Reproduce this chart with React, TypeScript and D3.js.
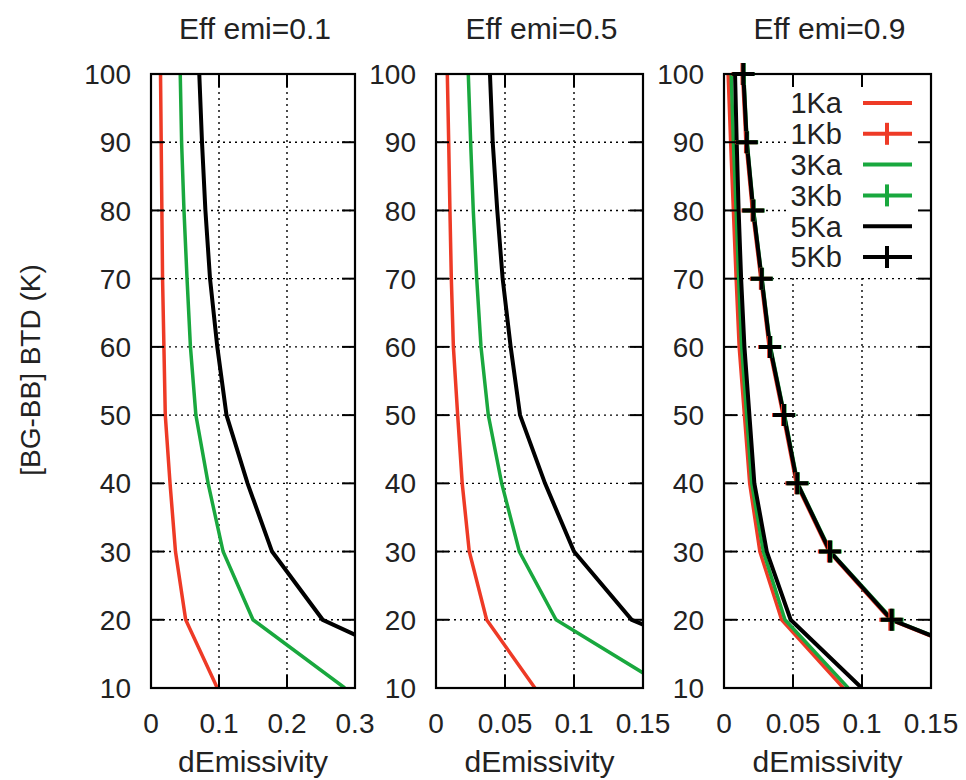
import React from 'react';
import * as d3 from 'd3';

// ---- data ----
const btd = [10, 20, 30, 40, 50, 60, 70, 80, 90, 100];
const yTicks = [10, 20, 30, 40, 50, 60, 70, 80, 90, 100];
const titles = ['Eff emi=0.1', 'Eff emi=0.5', 'Eff emi=0.9'];
const xTicksA = [0, 0.1, 0.2, 0.3];
const xTickLabelsA = ['0', '0.1', '0.2', '0.3'];
const xTicksB = [0, 0.05, 0.1, 0.15];
const xTickLabelsB = ['0', '0.05', '0.1', '0.15'];
const xMaxes = [0.3, 0.15, 0.15];

// Eff emi = 0.1
const e1_1K = [0.0975, 0.051, 0.036, 0.028, 0.021, 0.019, 0.017, 0.016, 0.015, 0.014];
const e1_3K = [0.285, 0.150, 0.106, 0.084, 0.066, 0.058, 0.053, 0.0485, 0.045, 0.043];
const e1_5K = [0.47, 0.2525, 0.178, 0.142, 0.111, 0.0975, 0.0868, 0.080, 0.075, 0.071];
// Eff emi = 0.5
const e5_1K = [0.0717, 0.0367, 0.0241, 0.019, 0.0157, 0.0126, 0.0111, 0.0101, 0.0092, 0.0082];
const e5_3K = [0.168, 0.087, 0.0604, 0.0476, 0.0379, 0.0326, 0.0295, 0.027, 0.0251, 0.0234];
const e5_5K = [0.26, 0.1418, 0.100, 0.079, 0.0609, 0.0541, 0.0483, 0.0444, 0.0411, 0.0391];
// Eff emi = 0.9
const e9_1Ka = [0.0865, 0.0418, 0.026, 0.0186, 0.0148, 0.011, 0.0088, 0.0068, 0.0048, 0.003];
const e9_3Ka = [0.090, 0.0442, 0.0285, 0.0201, 0.0164, 0.0128, 0.0106, 0.0088, 0.0068, 0.0052];
const e9_5Ka = [0.0998, 0.0483, 0.031, 0.022, 0.0184, 0.0148, 0.0124, 0.0106, 0.0092, 0.008];
const e9_1Kb = [0.2435, 0.1205, 0.0760, 0.0524, 0.0428, 0.0327, 0.0267, 0.0206, 0.0159, 0.0134];
const e9_3Kb = [0.2455, 0.1222, 0.0773, 0.0535, 0.0439, 0.0337, 0.0276, 0.0215, 0.0168, 0.0143];
const e9_5Kb = [0.245, 0.1215, 0.0768, 0.0531, 0.0435, 0.0333, 0.0273, 0.0212, 0.0165, 0.014];

const legendLabels = ['1Ka', '1Kb', '3Ka', '3Kb', '5Ka', '5Kb'];

const RED = '#ee3a26';
const GREEN = '#19a83e';
const BLACK = '#000000';

type Series = { values: number[]; color: string; width: number; marker: boolean };

const panelSeries: Series[][] = [
  [
    { values: e1_1K, color: RED, width: 3.5, marker: false },
    { values: e1_3K, color: GREEN, width: 3.5, marker: false },
    { values: e1_5K, color: BLACK, width: 4, marker: false },
  ],
  [
    { values: e5_1K, color: RED, width: 3.5, marker: false },
    { values: e5_3K, color: GREEN, width: 3.5, marker: false },
    { values: e5_5K, color: BLACK, width: 4, marker: false },
  ],
  [
    { values: e9_1Ka, color: RED, width: 3.5, marker: false },
    { values: e9_1Kb, color: RED, width: 3.5, marker: true },
    { values: e9_3Ka, color: GREEN, width: 3.5, marker: false },
    { values: e9_3Kb, color: GREEN, width: 3.5, marker: true },
    { values: e9_5Ka, color: BLACK, width: 4, marker: false },
    { values: e9_5Kb, color: BLACK, width: 4, marker: true },
  ],
];
const legendColors = [RED, RED, GREEN, GREEN, BLACK, BLACK];
const legendMarkers = [false, true, false, true, false, true];

// ---- layout ----
const W = 966;
const H = 780;
const TOP = 74;
const BOTTOM = 688;
const panelX = [
  [151, 355],
  [436, 643],
  [724, 931],
];
const FONT = '"Liberation Sans", Arial, Helvetica, sans-serif';
const TICK = 13;
const MS = 11; // half marker size

function Panel({ idx }: { idx: number }) {
  const [x0, x1] = panelX[idx];
  const x = d3.scaleLinear().domain([0, xMaxes[idx]]).range([x0, x1]);
  const y = d3.scaleLinear().domain([10, 100]).range([BOTTOM, TOP]);
  const ticks = idx === 0 ? xTicksA : xTicksB;
  const tickLabels = idx === 0 ? xTickLabelsA : xTickLabelsB;
  const line = d3
    .line<number>()
    .x((d) => x(d))
    .y((_, i) => y(btd[i]));
  const clipId = `clip${idx}`;
  const innerX = ticks.filter((t) => t > 0 && t < xMaxes[idx]);
  const innerY = yTicks.filter((t) => t > 10 && t < 100);

  return (
    <g>
      <defs>
        <clipPath id={clipId}>
          <rect x={x0} y={TOP} width={x1 - x0} height={BOTTOM - TOP} />
        </clipPath>
      </defs>
      {/* grid */}
      <g stroke="#000" strokeWidth={1.4} strokeDasharray="2,4">
        {innerX.map((t) => (
          <line key={'gx' + t} x1={x(t)} x2={x(t)} y1={TOP} y2={BOTTOM} />
        ))}
        {innerY.map((t) => (
          <line key={'gy' + t} x1={x0} x2={x1} y1={y(t)} y2={y(t)} />
        ))}
      </g>
      {/* legend background */}
      {idx === 2 && <rect x={787} y={TOP} width={x1 - 787} height={202} fill="#fff" />}
      {/* curves */}
      <g clipPath={`url(#${clipId})`}>
        {panelSeries[idx].map((s, i) => (
          <path
            key={'s' + i}
            d={line(s.values) || ''}
            fill="none"
            stroke={s.color}
            strokeWidth={s.width}
            strokeLinejoin="miter"
          />
        ))}
      </g>
      {panelSeries[idx].map((s, i) =>
        s.marker ? (
          <g key={'m' + i} stroke={s.color} strokeWidth={4}>
            {s.values.map((v, j) =>
              v <= xMaxes[idx] ? (
                <path
                  key={j}
                  d={`M${x(v) - MS},${y(btd[j])}h${2 * MS}M${x(v)},${y(btd[j]) - MS}v${2 * MS}`}
                />
              ) : null
            )}
          </g>
        ) : null
      )}
      {/* ticks */}
      <g stroke="#000" strokeWidth={2}>
        {ticks.map((t) => (
          <g key={'tx' + t}>
            <line x1={x(t)} x2={x(t)} y1={BOTTOM} y2={BOTTOM - TICK} />
            <line x1={x(t)} x2={x(t)} y1={TOP} y2={TOP + TICK} />
          </g>
        ))}
        {yTicks.map((t) => (
          <g key={'ty' + t}>
            <line x1={x0} x2={x0 + TICK} y1={y(t)} y2={y(t)} />
            <line x1={x1} x2={x1 - TICK} y1={y(t)} y2={y(t)} />
          </g>
        ))}
      </g>
      <rect x={x0} y={TOP} width={x1 - x0} height={BOTTOM - TOP} fill="none" stroke="#000" strokeWidth={2.2} />
      {/* labels */}
      <g fontFamily={FONT} fontSize={28} fill="#222">
        {yTicks.map((t) => (
          <text key={'ly' + t} x={x0 - 20} y={y(t)} dy="0.36em" textAnchor="end">
            {t}
          </text>
        ))}
        {ticks.map((t, i) => (
          <text key={'lx' + t} x={x(t)} y={733} textAnchor="middle">
            {tickLabels[i]}
          </text>
        ))}
      </g>
      <text x={(x0 + x1) / 2} y={772} textAnchor="middle" fontFamily={FONT} fontSize={30} fill="#222">
        dEmissivity
      </text>
      <text x={(x0 + x1) / 2 + 2} y={39} textAnchor="middle" fontFamily={FONT} fontSize={30} fill="#222">
        {titles[idx]}
      </text>
      {/* legend */}
      {idx === 2 &&
        legendLabels.map((lab, i) => {
          const ly = 103 + i * 30.8;
          return (
            <g key={'lg' + i}>
              <text x={842} y={ly} dy="0.36em" textAnchor="end" fontFamily={FONT} fontSize={29} fill="#222">
                {lab}
              </text>
              <line x1={863} x2={912} y1={ly} y2={ly} stroke={legendColors[i]} strokeWidth={4} />
              {legendMarkers[i] && (
                <line x1={887} x2={887} y1={ly - MS} y2={ly + MS} stroke={legendColors[i]} strokeWidth={4} />
              )}
            </g>
          );
        })}
    </g>
  );
}

export default function App() {
  return (
    <svg
      width={W}
      height={H}
      viewBox={`0 0 ${W} ${H}`}
      style={{ position: 'absolute', left: 0, top: 0, background: '#fff' }}
    >
      <rect x={0} y={0} width={W} height={H} fill="#fff" />
      <text
        transform={`translate(40,370) rotate(-90)`}
        textAnchor="middle"
        fontFamily={FONT}
        fontSize={28}
        fill="#222"
      >
        [BG-BB] BTD (K)
      </text>
      {[0, 1, 2].map((i) => (
        <Panel key={i} idx={i} />
      ))}
    </svg>
  );
}
